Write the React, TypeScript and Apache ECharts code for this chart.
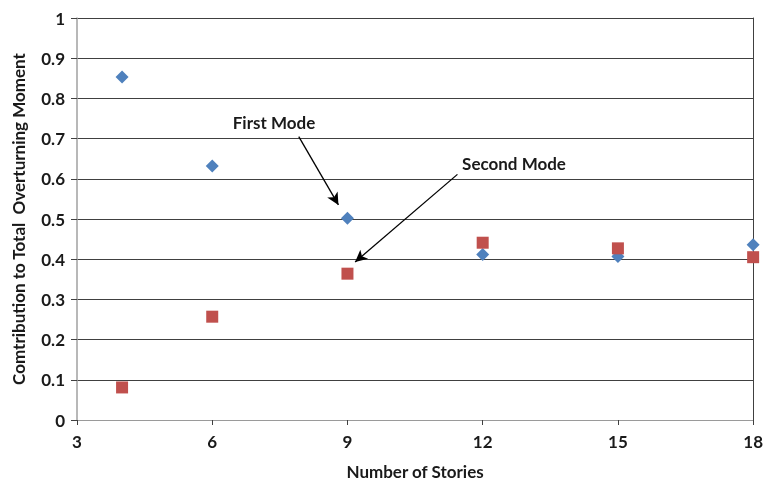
import React, { useEffect, useRef } from "react";
import * as echarts from "echarts";

// Number of stories of each building
const stories = [4, 6, 9, 12, 15, 18];
// Share of the total overturning moment carried by each mode
const firstMode = [0.853, 0.632, 0.502, 0.412, 0.407, 0.436];
const secondMode = [0.081, 0.257, 0.364, 0.441, 0.427, 0.405];
// Callout arrows: [fromX, fromY] -> [toX, toY] in data units
const firstArrow = [[7.92, 0.705], [8.8, 0.535]];
const secondArrow = [[11.44, 0.611], [9.17, 0.393]];

const FONT = "Lato, 'Open Sans', sans-serif";

export default function App() {
  const ref = useRef<HTMLDivElement>(null);

  useEffect(() => {
    if (!ref.current) return;
    const chart = echarts.init(ref.current, null, { renderer: "svg" });
    const arrowLine = (pts: number[][]) => ({
      silent: true,
      symbol: ["none", "arrow"],
      symbolSize: [9, 12],
      label: { show: false },
      lineStyle: { color: "#000", width: 1.3, type: "solid" },
      data: [[{ coord: pts[0] }, { coord: pts[1] }]],
    });
    chart.setOption({
      animation: false,
      textStyle: { fontFamily: FONT },
      grid: { left: 77, right: 10, top: 18, bottom: 63 },
      xAxis: [
        {
          type: "value",
          min: 3,
          max: 18,
          interval: 3,
          name: "Number of Stories",
          nameLocation: "middle",
          nameGap: 43,
          nameTextStyle: { fontSize: 17, fontWeight: "bold", color: "#1a1a1a", fontFamily: FONT },
          axisLine: { lineStyle: { color: "#404040", width: 1 } },
          axisTick: { show: true, length: 5, lineStyle: { color: "#404040" } },
          axisLabel: { fontSize: 17, fontWeight: "bold", color: "#1a1a1a", margin: 13, fontFamily: FONT },
          splitLine: { show: false },
        },
        {
          type: "value",
          position: "top",
          min: 3,
          max: 18,
          axisLine: { show: true, lineStyle: { color: "#9a9a9a", width: 1 } },
          axisTick: { show: false },
          axisLabel: { show: false },
          splitLine: { show: false },
        },
      ],
      yAxis: [
        {
          type: "value",
          min: 0,
          max: 1,
          interval: 0.1,
          name: "Comtribution to Total  Overturning Moment",
          nameLocation: "middle",
          nameGap: 50,
          nameTextStyle: { fontSize: 17, fontWeight: "bold", color: "#1a1a1a", fontFamily: FONT },
          axisLine: { show: true, lineStyle: { color: "#a0a0a0", width: 1.5 } },
          axisTick: { show: true, length: 6, lineStyle: { color: "#404040" } },
          axisLabel: { fontSize: 17, fontWeight: "bold", color: "#1a1a1a", margin: 12, fontFamily: FONT },
          splitLine: { show: true, lineStyle: { color: "#404040", width: 1 } },
        },
        {
          type: "value",
          position: "right",
          min: 0,
          max: 1,
          axisLine: { show: true, lineStyle: { color: "#404040", width: 1 } },
          axisTick: { show: false },
          axisLabel: { show: false },
          splitLine: { show: false },
        },
      ],
      series: [
        {
          name: "First Mode",
          type: "scatter",
          symbol: "diamond",
          symbolSize: [13, 13],
          itemStyle: { color: "#4F81BD", opacity: 1 },
          data: stories.map((s, i) => [s, firstMode[i]]),
          markLine: arrowLine(firstArrow),
          z: 3,
        },
        {
          name: "Second Mode",
          type: "scatter",
          symbol: "rect",
          symbolSize: [12, 12],
          itemStyle: { color: "#C0504D", opacity: 1 },
          data: stories.map((s, i) => [s, secondMode[i]]),
          markLine: arrowLine(secondArrow),
          z: 3,
        },
      ],
      graphic: [
        {
          type: "text",
          x: 274,
          y: 122,
          style: {
            text: "First Mode",
            font: `bold 17px ${FONT}`,
            fill: "#1a1a1a",
            textAlign: "center",
            textVerticalAlign: "middle",
          },
        },
        {
          type: "text",
          x: 514,
          y: 163,
          style: {
            text: "Second Mode",
            font: `bold 17px ${FONT}`,
            fill: "#1a1a1a",
            textAlign: "center",
            textVerticalAlign: "middle",
          },
        },
      ],
    });
    return () => chart.dispose();
  }, []);

  return (
    <div
      ref={ref}
      style={{ position: "fixed", left: 0, top: 0, width: 766, height: 485 }}
    />
  );
}
